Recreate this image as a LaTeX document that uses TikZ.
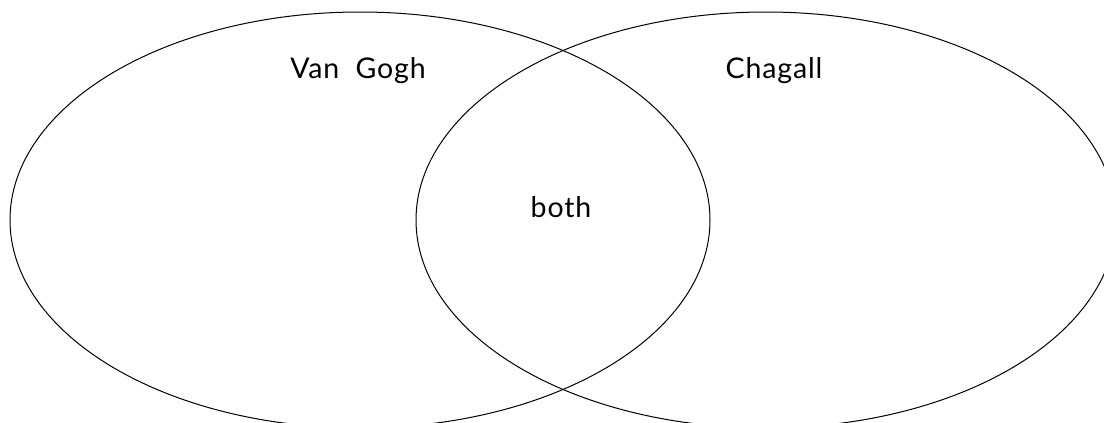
\documentclass[tikz,border=0pt]{standalone}
\usepackage{fontspec}
\setmainfont{Lato}[LetterSpace=3]
\begin{document}
\begin{tikzpicture}[x=1pt,y=-1pt,
  setline/.style={draw=black,line width=1pt},
  lbl/.style={font=\fontsize{28.5}{32}\selectfont,text=black,anchor=base,inner sep=0pt}]
\useasboundingbox (0,0) rectangle (1104,423);
\clip (0,0) rectangle (1104,423);
\fill[white] (0,0) rectangle (1104,423);
\draw[setline] (360,220) ellipse [x radius=350, y radius=208];
\draw[setline] (766,220) ellipse [x radius=350, y radius=208];
\node[lbl] (vg) at (358,78) {Van\ \ Gogh};
\node[lbl] (ch) at (774,78) {Chagall};
\node[lbl] (both) at (561,217) {both};
\end{tikzpicture}
\end{document}
